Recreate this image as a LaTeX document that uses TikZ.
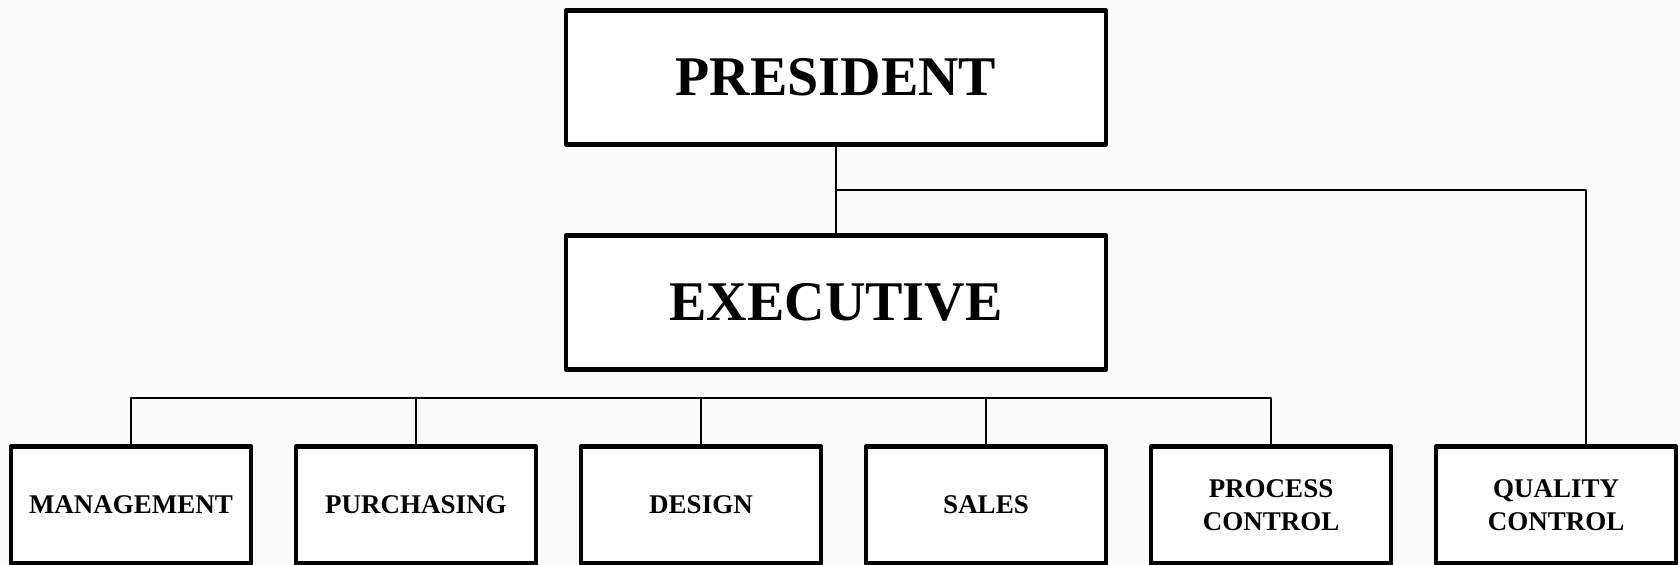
\documentclass[tikz,border=0pt]{standalone}
\usepackage{fontspec}
\setmainfont{Liberation Serif}
\definecolor{paper}{HTML}{FAFAFA}
\begin{document}
\begin{tikzpicture}[x=0.5pt,y=-0.5pt,line join=round,
    topbox/.style={draw,fill=white,line width=2.3pt,minimum width=270pt,minimum height=67pt,inner sep=0pt,font=\fontsize{28}{34}\selectfont\bfseries},
    unitbox/.style={draw,fill=white,line width=2.3pt,minimum width=120pt,minimum height=58.5pt,inner sep=0pt,align=center,font=\fontsize{13.5}{16.5}\selectfont\bfseries},
    link/.style={line width=1.4pt}]
    \useasboundingbox[fill=paper](0,0)rectangle(1680,565);
    \clip(0,0)rectangle(1680,565);
    % top of the chart
    \node[topbox](pres)at(836,77.5){PRESIDENT};
    \node[topbox](exec)at(836,302.5){EXECUTIVE};
    % departments
    \node[unitbox](mgmt)at(131,505){MANAGEMENT};
    \node[unitbox](purch)at(416,505){PURCHASING};
    \node[unitbox](design)at(701,505){DESIGN};
    \node[unitbox](sales)at(986,505){SALES};
    \node[unitbox](proc)at(1271,505){PROCESS\\CONTROL};
    \node[unitbox](qc)at(1556,505){QUALITY\\CONTROL};
    \coordinate(qcbend)at(1586,190);
    \coordinate(bus)at(0,398);
    \draw[link](pres.south)--(exec.north);
    \draw[link](pres.south|-qcbend)--(qcbend)--(qcbend|-qc.north);
    \draw[link](mgmt.north)--(mgmt.north|-bus)--(proc.north|-bus)--(proc.north);
    \foreach \dep in {purch,design,sales}
        \draw[link](\dep.north)--(\dep.north|-bus);
\end{tikzpicture}
\end{document}
